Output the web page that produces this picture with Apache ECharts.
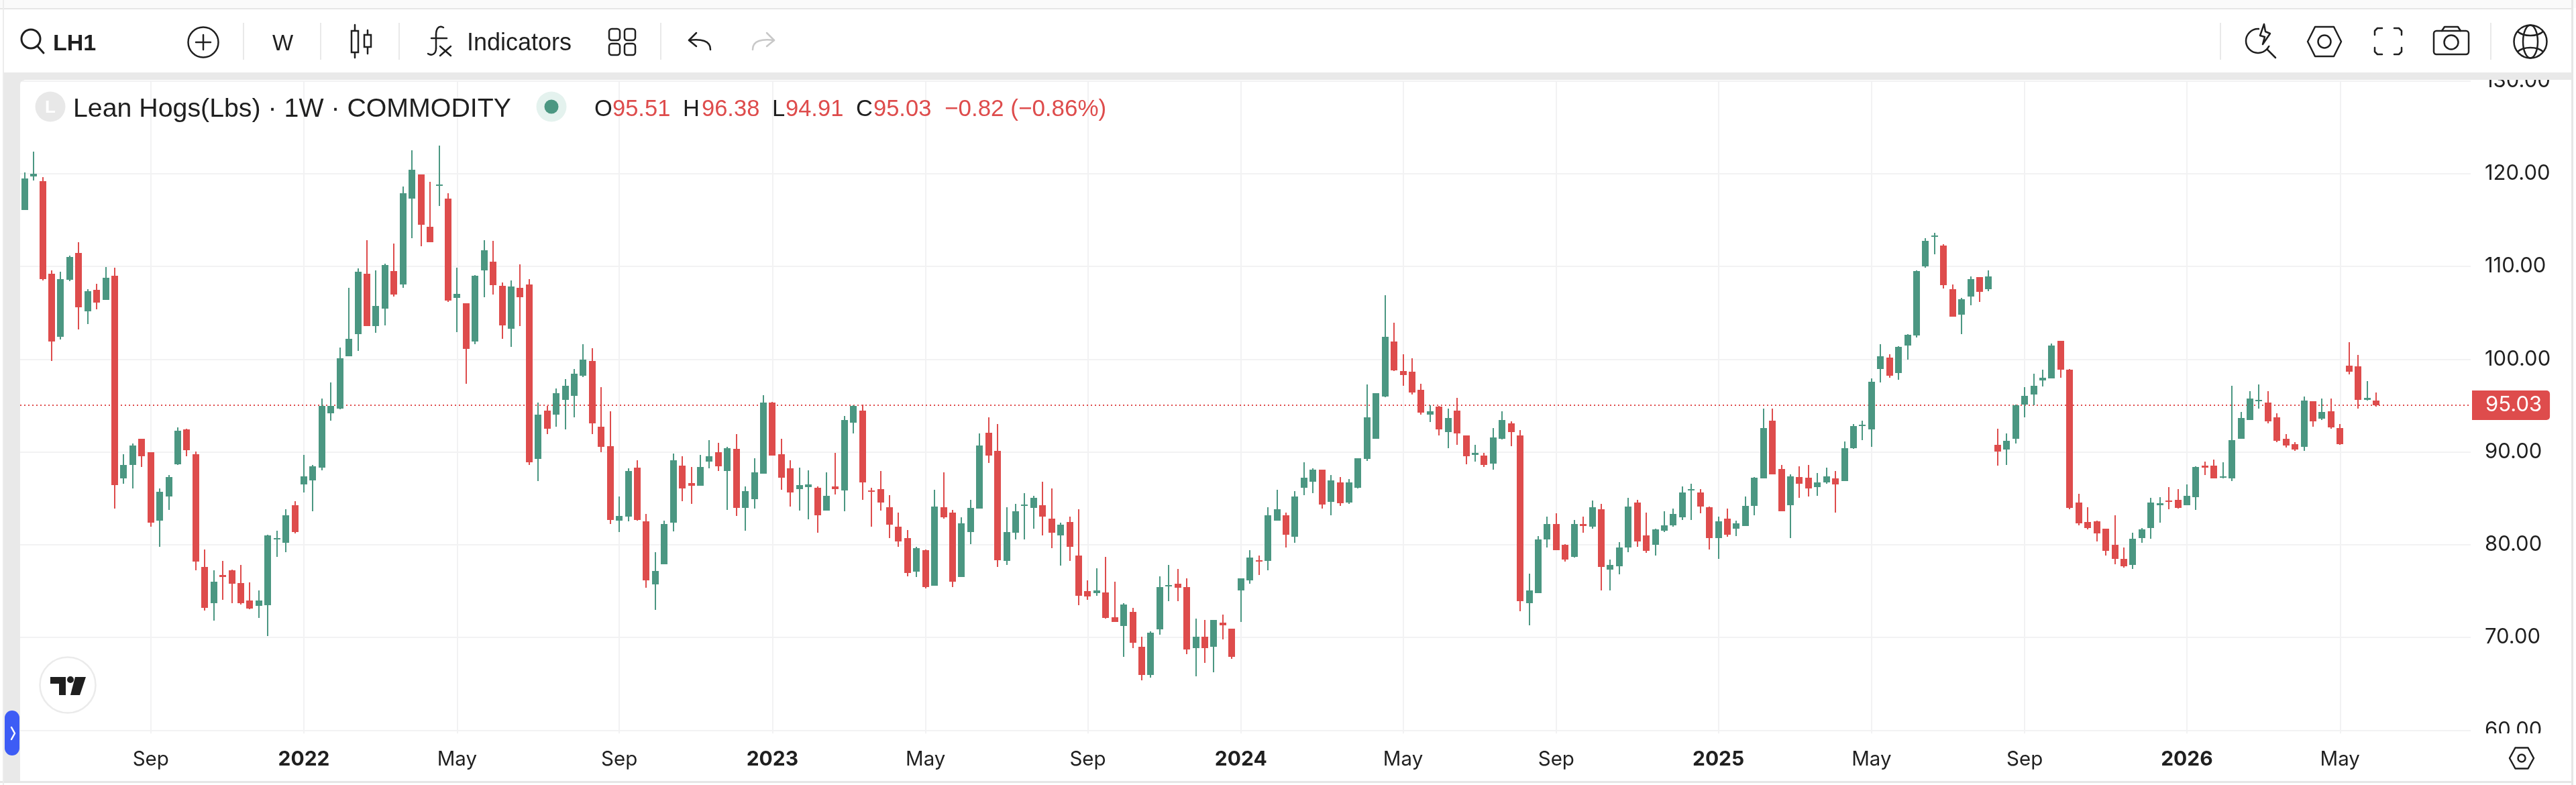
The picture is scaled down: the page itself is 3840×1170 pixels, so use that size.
<!DOCTYPE html>
<html>
<head>
<meta charset="utf-8">
<title>Lean Hogs weekly</title>
<style>
  html, body { margin: 0; padding: 0; background: #fff; }
  #chart { width: 3840px; height: 1170px; }
</style>
<script src="https://cdn.jsdelivr.net/npm/echarts@6/dist/echarts.min.js"></script>
</head>
<body>
<div id="chart"></div>
<script>
// Weekly bars, one row per week: [open, close, low, high]
const bars2021 = [
[116.06,119.46,116.06,120.13],[119.68,120.0,119.28,122.37],[119.19,108.63,108.49,119.64],[109.21,101.91,99.81,109.61],
[102.45,108.63,102.09,109.43],[108.54,111.0,108.4,111.14],[111.45,105.58,103.21,112.61],[105.14,107.33,103.79,107.55],
[107.46,106.08,105.36,108.14],[106.39,108.76,106.39,109.93],[108.99,86.43,83.88,109.84],[87.14,88.58,86.56,89.74],
[88.58,90.68,86.03,90.9],[91.4,89.52,88.35,91.4],[89.96,82.35,81.91,89.96],[82.58,85.67,79.76,86.07],
[85.17,87.28,83.74,87.5],[88.67,92.29,88.58,92.65],[92.43,90.19,89.52,92.47],[89.74,78.15,77.21,90.01],
[77.57,73.22,72.87,79.45],[73.67,76.04,71.79,77.21],[76.72,76.49,74.03,78.24],[77.21,75.77,73.67,77.3],
[75.86,73.67,73.58,77.79],[73.98,73.09,73.04,75.91],[73.4,73.98,72.11,75.1],[73.45,80.97,70.18,81.1],
[80.61,80.74,78.68,81.5],[80.21,83.2,79.18,83.83],[84.23,81.37,81.19,84.68]
];
const bars2022 = [
[86.47,87.37,85.62,89.65],[86.92,88.44,83.61,88.58],[88.31,94.93,87.99,95.74],[94.17,94.93,93.37,97.48],
[94.71,100.08,94.57,101.24],[100.3,102.18,100.3,107.69],[102.68,109.43,100.93,109.79],[109.21,103.57,103.57,112.84],
[103.57,105.72,102.85,109.61],[105.45,110.15,103.62,110.28],[109.48,106.97,106.79,112.48],[108.05,117.89,107.69,118.61],
[117.31,120.4,113.06,122.5],[119.91,114.49,112.16,119.91],[114.27,112.61,112.61,119.1],[118.7,118.83,116.51,123.04],
[117.31,106.3,106.21,117.89],[106.61,107.02,102.9,109.84],[106.03,101.11,97.35,106.03],[101.91,108.99,101.6,109.08],
[109.61,111.72,106.66,112.84],[110.51,107.96,106.97,112.75],[107.91,103.62,102.18,108.27],[103.26,107.82,101.33,108.49],
[107.73,106.66,103.57,110.2],[108.05,88.89,88.58,108.67],[89.25,93.99,86.83,95.29],[94.44,92.47,91.89,94.93],
[93.99,96.32,92.69,96.86],[95.65,97.17,92.43,97.84],[96.05,98.42,93.77,98.92],[98.2,99.99,98.07,101.6],
[99.81,93.05,91.89,101.15],[92.69,90.55,89.96,97.0],[90.59,82.67,82.22,94.35],[82.58,83.07,81.33,85.17],
[83.03,87.95,82.49,88.22],[88.31,82.67,82.58,89.07],[82.49,76.13,75.33,83.29],[75.69,77.16,72.96,79.18],
[77.92,82.22,77.88,82.58],[82.35,89.07,81.42,89.83],[88.49,86.03,84.68,89.52],[86.61,86.34,84.37,88.35],
[86.34,88.35,86.34,89.65],[88.93,89.52,88.22,91.31],[89.96,88.44,87.95,90.95],[87.95,90.37,83.74,90.55],
[90.32,83.97,83.07,91.89],[83.97,85.76,81.5,86.25],[84.91,87.77,83.88,89.29],[87.64,95.29,87.64,96.1]
];
const bars2023 = [
[95.29,89.61,89.61,95.38],[89.74,87.19,85.89,91.4],[88.22,85.62,84.1,89.07],[85.98,86.43,83.65,88.31],
[86.2,86.47,82.71,87.99],[86.11,83.2,81.28,86.25],[83.65,85.26,83.65,87.77],[86.25,85.98,85.4,89.87],
[85.85,93.41,83.61,93.86],[93.14,94.93,91.98,95.02],[94.44,86.7,84.82,95.11],[85.85,85.67,81.91,86.11],
[85.98,84.55,83.65,87.95],[84.01,82.13,80.7,85.31],[81.91,80.34,79.76,83.43],[80.74,76.94,76.58,81.55],
[77.07,79.62,76.49,79.76],[79.4,75.42,75.28,79.49],[75.55,84.1,75.55,85.89],[84.01,82.94,82.8,87.77],
[83.43,76.0,75.42,83.74],[76.49,82.27,76.49,82.94],[81.33,83.97,80.03,84.82],[83.88,90.68,83.88,91.98],
[92.07,89.61,88.8,93.77],[90.1,78.33,77.57,93.01],[78.24,81.33,77.79,84.01],[81.28,83.61,80.56,84.37],
[84.19,84.32,80.56,85.53],[83.97,85.04,81.73,85.26],[84.23,83.03,80.97,86.79],[82.8,81.28,79.62,86.03],
[80.97,82.13,77.74,82.35],[82.44,79.76,78.24,83.03],[78.86,74.52,73.45,83.79],[74.97,74.39,74.03,76.13],
[74.75,75.1,74.48,77.43],[74.83,72.11,72.01,78.68],[72.15,71.7,71.7,76.04],[71.21,73.54,67.94,73.67],
[72.73,69.42,68.84,73.22],[68.97,65.93,65.35,70.05],[65.93,70.49,65.66,70.63],[70.85,75.46,70.31,76.58],
[75.51,75.64,73.89,77.79],[75.77,75.33,73.89,77.39],[75.42,68.7,68.17,76.4],[68.88,70.05,65.79,72.01],
[70.05,68.88,67.23,71.92],[68.97,71.88,66.24,71.92],[71.57,71.3,69.78,72.46],[70.94,67.9,67.67,70.94]
];
const bars2024 = [
[75.1,76.36,71.7,76.4],[76.13,78.59,75.77,79.4],[78.33,78.15,76.72,78.82],[78.24,83.2,77.21,84.01],
[82.58,83.79,82.58,85.89],[83.2,81.06,79.67,83.43],[80.83,85.17,80.21,85.76],[86.11,87.19,85.31,88.89],
[86.79,88.08,85.53,88.22],[88.08,84.32,83.88,88.08],[84.59,86.92,83.16,87.5],[86.7,84.46,84.15,87.28],
[84.55,86.7,84.37,87.05],[86.16,89.29,86.03,89.34],[89.25,93.77,89.02,97.26],[91.4,96.32,91.4,96.32],
[96.01,102.45,95.92,106.88],[101.91,98.83,98.74,103.93],[98.69,98.29,97.17,100.53],[98.65,96.41,96.19,100.08],
[96.68,94.22,93.99,97.35],[93.99,94.35,93.23,95.02],[94.89,92.43,91.75,94.98],[92.11,93.63,90.37,94.71],
[94.44,91.98,90.77,95.83],[91.75,89.52,88.67,91.75],[89.65,89.87,88.93,90.77],[89.61,88.58,88.35,89.92],
[88.71,91.53,88.08,92.56],[91.44,93.41,91.35,94.35],[93.05,92.11,90.59,93.28],[91.75,73.89,72.82,92.34],
[73.67,75.06,71.3,76.85],[74.75,80.56,74.75,80.92],[80.56,82.22,79.67,83.03],[82.22,79.4,79.4,83.38],
[79.98,78.37,78.15,80.07],[78.68,82.22,78.59,82.67],[82.22,82.04,81.28,83.03],[81.95,84.01,81.73,84.73],
[83.79,77.57,75.06,84.37],[77.3,77.79,75.1,78.37],[77.66,79.67,76.81,80.25],[79.67,84.1,79.18,85.04],
[84.55,80.34,79.76,84.82],[80.97,79.36,79.09,83.43],[79.98,81.64,78.86,81.73],[81.5,82.09,81.33,83.61],
[82.09,83.29,81.91,83.88],[82.94,85.62,82.67,86.25],[85.85,85.98,82.67,86.56],[85.62,84.1,83.38,85.98],
[84.01,80.7,79.45,84.1]
];
const bars2025 = [
[80.7,82.49,78.46,83.03],[82.8,81.06,80.83,83.88],[81.73,82.27,80.92,82.58],[82.0,84.15,82.0,85.17],
[84.15,87.19,83.16,87.28],[87.14,92.56,87.14,94.71],[93.37,87.55,87.55,94.66],[88.13,83.61,83.61,88.58],
[84.23,87.37,80.7,87.55],[87.28,86.56,85.04,88.44],[87.19,86.03,85.17,88.58],[86.2,86.7,85.26,87.73],
[86.74,87.37,86.56,88.31],[87.14,86.47,83.43,87.95],[86.83,90.37,86.83,91.13],[90.41,92.78,90.32,93.01],
[92.83,92.96,91.31,93.37],[92.43,97.57,90.55,97.93],[98.92,100.3,97.48,101.6],[100.17,98.2,97.98,100.53],
[98.51,101.33,97.75,101.38],[101.47,102.63,99.95,102.68],[102.59,109.48,102.32,109.61],[110.02,112.75,109.84,113.02],
[113.24,113.33,111.31,113.64],[112.25,107.96,107.6,112.39],[107.55,104.56,104.56,108.09],[104.78,106.48,102.68,106.61],
[106.75,108.67,105.85,108.9],[108.85,107.24,106.17,108.85],[107.55,108.9,107.33,109.57],[90.77,90.01,88.49,92.47],
[90.23,91.17,88.58,91.98],[91.4,95.02,90.9,95.11],[95.11,96.05,93.72,96.99],[96.19,97.13,95.07,98.42],
[97.71,97.98,97.04,98.87],[97.93,101.47,97.93,101.69],[101.96,98.87,97.98,101.96],[98.87,83.97,83.79,98.96],
[84.55,82.27,82.09,85.49],[82.44,81.82,81.64,84.01],[82.49,81.19,80.34,82.58],[81.73,79.31,78.82,81.73],
[79.98,78.46,77.88,83.2],[78.5,77.7,77.52,79.67],[77.79,80.61,77.39,81.28],[80.7,81.64,80.21,81.77],
[81.77,84.55,80.61,85.04],[84.28,84.46,82.35,85.09],[84.73,84.59,83.79,86.2],[84.82,83.97,83.88,85.98]
];
const bars2026 = [
[84.28,85.26,84.23,86.47],[85.09,88.35,83.74,88.44],[88.49,88.31,87.5,88.93],[88.49,87.14,87.14,89.16],
[87.23,87.37,87.14,88.89],[87.14,91.26,86.83,97.13],[91.4,93.63,91.4,94.31],[93.41,95.74,93.41,96.59],
[95.51,95.65,94.66,97.26],[95.29,93.32,93.05,96.59],[93.72,91.17,91.08,94.17],[91.4,90.68,90.46,91.89],
[90.81,90.23,90.1,91.04],[90.55,95.51,90.1,95.96],[95.47,93.28,92.69,95.47],[93.59,94.31,93.41,95.74],
[94.35,92.65,92.47,95.74],[92.56,90.81,90.77,93.01],[99.27,98.65,98.33,101.82],[99.23,95.65,94.71,100.44],
[95.6,95.85,95.51,97.62],[95.51,95.03,94.91,96.38]
];

// Week starts on the time axis; the last ten weeks are empty space to the right of the latest bar
const firstWeek = Date.UTC(2021, 4, 31);
const weekCount = 272;
const categories = [];
for (let i = 0; i < weekCount; i++) {
  categories.push(new Date(firstWeek + i * 7 * 86400000).toISOString().slice(0, 10));
}

// Time axis labels keyed by the first weekly bar of the period
const timeTicks = {
  '2021-09-06': 'Sep', '2022-01-03': '2022', '2022-05-02': 'May', '2022-09-05': 'Sep',
  '2023-01-02': '2023', '2023-05-01': 'May', '2023-09-04': 'Sep', '2024-01-01': '2024',
  '2024-05-06': 'May', '2024-09-02': 'Sep', '2025-01-06': '2025', '2025-05-05': 'May',
  '2025-09-01': 'Sep', '2026-01-05': '2026', '2026-05-04': 'May'
};

// Latest bar readout shown in the legend row
const symbolTitle = 'Lean Hogs(Lbs) · 1W · COMMODITY';
const lastClose = 95.03;
const ohlcReadout = [
  { key: 'O', value: '95.51', keyX: 886, valueX: 913 },
  { key: 'H', value: '96.38', keyX: 1018, valueX: 1046 },
  { key: 'L', value: '94.91', keyX: 1151, valueX: 1171 },
  { key: 'C', value: '95.03', keyX: 1276, valueX: 1302 }
];
const changeReadout = '−0.82 (−0.86%)';

const UP = '#4b9782';
const DOWN = '#de4c4c';
const INK = '#1f1f1f';
const GRID = '#f2f2f3';
const FRAME = '#e9e9e9';
const AXIS_FONT = 'Inter';
const UI_FONT = '"Liberation Sans"';

const isTick = (idx, value) => Object.prototype.hasOwnProperty.call(timeTicks, value);

// Shape helpers for the toolbar chrome
const OVER = 100;
const rect = (x, y, w, h, fill, r) => ({ type: 'rect', z: OVER, silent: true,
  shape: { x, y, width: w, height: h, r: r || 0 }, style: { fill } });
const outlineRect = (x, y, w, h, r, lw) => ({ type: 'rect', z: OVER, silent: true,
  shape: { x, y, width: w, height: h, r: r || 0 }, style: { fill: 'none', stroke: INK, lineWidth: lw || 2.5 } });
const circle = (cx, cy, r, stroke, lw, fill) => ({ type: 'circle', z: OVER, silent: true,
  shape: { cx, cy, r }, style: { fill: fill || 'none', stroke: stroke || 'none', lineWidth: lw || 0 } });
const stroke = (points, color, lw) => ({ type: 'polyline', z: OVER, silent: true,
  shape: { points }, style: { fill: 'none', stroke: color || INK, lineWidth: lw || 2.5, lineJoin: 'round', lineCap: 'round' } });
const curve = (x1, y1, cpx1, cpy1, cpx2, cpy2, x2, y2, color, lw) => ({ type: 'bezierCurve', z: OVER, silent: true,
  shape: { x1, y1, cpx1, cpy1, cpx2, cpy2, x2, y2 }, style: { fill: 'none', stroke: color || INK, lineWidth: lw || 2.5, lineCap: 'round' } });
const fillPoly = (points, fill) => ({ type: 'polygon', z: OVER, silent: true, shape: { points }, style: { fill } });
const label = (text, x, y, size, color, weight, family) => ({ type: 'text', z: OVER, silent: true,
  style: { text, x, y, fill: color || INK, fontSize: size, fontWeight: weight || 'normal', fontFamily: family || UI_FONT,
    textAlign: 'left', textVerticalAlign: 'middle' } });
const hexagon = (cx, cy, hw, hh, inset, lw) => ({ type: 'polygon', z: OVER, silent: true,
  shape: { points: [[cx - hw, cy], [cx - hw + inset, cy - hh], [cx + hw - inset, cy - hh], [cx + hw, cy], [cx + hw - inset, cy + hh], [cx - hw + inset, cy + hh]] },
  style: { fill: 'none', stroke: INK, lineWidth: lw, lineJoin: 'round' } });
const divider = x => rect(x - 1, 34, 2, 55, FRAME);

const chrome = [
  // page frame
  rect(0, 0, 3840, 12, '#fafafa'),
  rect(0, 12, 3836, 2, '#e6e6e6'),
  rect(6, 14, 3827, 94, '#ffffff'),
  rect(6, 108, 3827, 11, FRAME),
  rect(6, 108, 24, 1056, FRAME),
  fillPoly([[30, 119], [37, 119], [33, 120.5], [31, 122], [30, 126]], FRAME),
  rect(3690, 1093, 143, 71, '#ffffff'),
  rect(3833, 0, 3, 1170, '#e6e6e6'),
  rect(0, 1164, 3836, 3, '#e6e6e6'),
  rect(4, 0, 2, 1170, '#ececec'),

  // toolbar, left group
  circle(46, 58, 14, INK, 3),
  stroke([[56, 69], [65, 79]], INK, 3),
  label('LH1', 79, 65.5, 34, INK, 'bold'),
  circle(303, 63, 22.5, INK, 2.5),
  stroke([[292, 63], [314, 63]]), stroke([[303, 52], [303, 74]]),
  divider(363),
  label('W', 406, 65.5, 33),
  divider(478),
  stroke([[529, 37], [529, 86]]), rect(524, 46, 10, 32, '#ffffff'), outlineRect(524, 46, 10, 32, 0),
  stroke([[548, 45], [548, 80]]), rect(543, 52, 10, 18, '#ffffff'), outlineRect(543, 52, 10, 18, 0),
  divider(595),
  curve(661, 41, 653, 37, 650, 44, 650, 52),
  stroke([[650, 52], [650, 72]]),
  curve(650, 72, 650, 80, 644, 84, 638, 80),
  stroke([[643, 57], [666, 57]]),
  stroke([[656, 69], [672, 83]]), stroke([[672, 69], [656, 83]]),
  label('Indicators', 696, 65.5, 36),
  outlineRect(908, 43, 16, 17, 4), outlineRect(931, 43, 16, 17, 4),
  outlineRect(908, 65, 16, 17, 4), outlineRect(931, 65, 16, 17, 4),
  divider(985),
  stroke([[1038, 49], [1027, 60], [1038, 69]]),
  curve(1027, 60, 1045, 58, 1059, 60, 1059, 74),
  stroke([[1143, 49], [1154, 60], [1143, 69]], '#c8c8c8'),
  curve(1154, 60, 1136, 58, 1122, 60, 1122, 74, '#c8c8c8'),

  // toolbar, right group
  divider(3310),
  circle(3366, 61, 18, INK, 2.5),
  stroke([[3380, 74], [3392, 86]]),
  fillPoly([[3368, 33], [3388, 33], [3388, 68], [3368, 68]], '#ffffff'),
  { type: 'polygon', z: OVER, silent: true, shape: { points: [[3375, 36], [3369, 53], [3376, 55], [3373, 66], [3384, 50], [3377, 47]] },
    style: { fill: '#ffffff', stroke: INK, lineWidth: 2.5, lineJoin: 'round' } },
  hexagon(3465, 62, 25, 22, 11, 2.5),
  circle(3465, 62, 9.5, INK, 2.5),
  stroke([[3540, 52], [3540, 46], [3544, 42], [3551, 42]]),
  stroke([[3569, 42], [3576, 42], [3580, 46], [3580, 52]]),
  stroke([[3540, 71], [3540, 77], [3544, 81], [3551, 81]]),
  stroke([[3569, 81], [3576, 81], [3580, 77], [3580, 71]]),
  outlineRect(3628, 46, 52, 35, 4),
  stroke([[3640, 46], [3644, 40], [3664, 40], [3668, 46]]),
  circle(3654, 63, 10.5, INK, 2.5),
  divider(3713),
  circle(3772, 62, 24.5, INK, 2.5),
  { type: 'ellipse', z: OVER, silent: true, shape: { cx: 3772, cy: 62, rx: 11, ry: 24.5 }, style: { fill: 'none', stroke: INK, lineWidth: 2.5 } },
  curve(3753, 47, 3762, 55, 3782, 55, 3791, 47),
  curve(3753, 77, 3762, 69, 3782, 69, 3791, 77),

  // symbol row
  circle(75, 159, 22.5, null, 0, '#e8e8e8'),
  label('L', 67, 161, 26, '#ffffff', 'bold'),
  label(symbolTitle, 109, 163, 39.3),
  circle(822, 159, 22.5, null, 0, '#e4f2ee'),
  circle(822, 159, 10.5, null, 0, UP),

  // axis settings hexagon
  hexagon(3759, 1130, 18, 15.5, 8.5, 2.5),
  circle(3759, 1130, 5.5, INK, 2.5),

  // watermark badge
  circle(101, 1021, 41.5, '#ebebeb', 2.5, '#ffffff'),
  fillPoly([[75, 1009], [98, 1009], [98, 1036], [88, 1036], [88, 1019], [75, 1019]], INK),
  circle(105, 1013, 5, null, 0, INK),
  fillPoly([[112, 1009], [128, 1009], [119, 1036], [105, 1036]], INK),

  // collapsed side panel tab
  rect(7, 1059, 22, 67, '#3d5cf5', 11),
  stroke([[17, 1084], [22, 1093], [17, 1102]], '#ffffff', 2.5)
];

ohlcReadout.forEach(item => {
  chrome.push(label(item.key, item.keyX, 163, 34.5));
  chrome.push(label(item.value, item.valueX, 163, 34.5, DOWN));
});
chrome.push(label(changeReadout, 1408, 163, 35, DOWN));

// One candle per week: a 2px wick behind a 10px body, snapped to whole pixels
const WICK = 2;
const BODY = 10;
function renderCandle(params, api) {
  const idx = api.value(0);
  const open = api.value(1);
  const close = api.value(2);
  const cx = Math.round(api.coord([idx, open])[0]);
  const y = v => Math.round(api.coord([idx, v])[1]);
  const fill = close >= open ? UP : DOWN;
  const top = y(Math.max(open, close));
  const bottom = Math.max(y(Math.min(open, close)), top + 2);
  return {
    type: 'group',
    children: [
      { type: 'rect', shape: { x: cx - WICK / 2, y: y(api.value(4)), width: WICK, height: y(api.value(3)) - y(api.value(4)) }, style: { fill } },
      { type: 'rect', shape: { x: cx - BODY / 2, y: top, width: BODY, height: bottom - top }, style: { fill } }
    ]
  };
}

const chart = echarts.init(document.getElementById('chart'), null, { renderer: 'canvas' });
chart.setOption({
  animation: false,
  backgroundColor: '#ffffff',
  grid: { left: 30, top: 120.7, width: 3653, height: 967.6, containLabel: false },
  xAxis: {
    type: 'category',
    data: categories,
    boundaryGap: true,
    axisLine: { show: false },
    axisTick: { show: true, alignWithLabel: true, length: 5, interval: isTick, lineStyle: { color: GRID, width: 2 } },
    splitLine: { show: true, alignWithLabel: true, interval: isTick, lineStyle: { color: GRID, width: 2 } },
    axisLabel: {
      interval: isTick,
      margin: 29,
      fontFamily: AXIS_FONT,
      fontSize: 29.5,
      color: INK,
      formatter: v => /^\d/.test(timeTicks[v]) ? '{year|' + timeTicks[v] + '}' : timeTicks[v],
      rich: { year: { fontFamily: AXIS_FONT, fontSize: 30, fontWeight: 'bold', color: INK } }
    }
  },
  yAxis: {
    type: 'value',
    position: 'right',
    min: 60,
    max: 130,
    interval: 10,
    axisLine: { show: false },
    axisTick: { show: false },
    splitLine: { show: true, lineStyle: { color: GRID, width: 2 } },
    axisLabel: { margin: 21, padding: [5, 0, 0, 0], fontFamily: AXIS_FONT, fontSize: 31, color: INK, formatter: v => v.toFixed(2) }
  },
  series: [{
    type: 'custom',
    name: 'Lean Hogs',
    renderItem: renderCandle,
    silent: true,
    clip: false,
    encode: { x: 0, y: [1, 2, 3, 4] },
    data: [].concat(bars2021, bars2022, bars2023, bars2024, bars2025, bars2026).map((bar, i) => [i].concat(bar)),
    markLine: {
      silent: true,
      z: 1,
      symbol: 'none',
      precision: 2,
      animation: false,
      lineStyle: { color: DOWN, width: 2, type: [2, 4] },
      label: {
        show: true,
        position: 'end',
        distance: 2,
        formatter: p => Number(p.value).toFixed(2),
        color: '#ffffff',
        fontFamily: AXIS_FONT,
        fontSize: 31,
        backgroundColor: DOWN,
        borderRadius: [0, 5, 5, 0],
        padding: [9, 12, 4, 20]
      },
      emphasis: { disabled: true },
      data: [{ yAxis: lastClose }]
    }
  }],
  graphic: { elements: chrome }
});
</script>
</body>
</html>
